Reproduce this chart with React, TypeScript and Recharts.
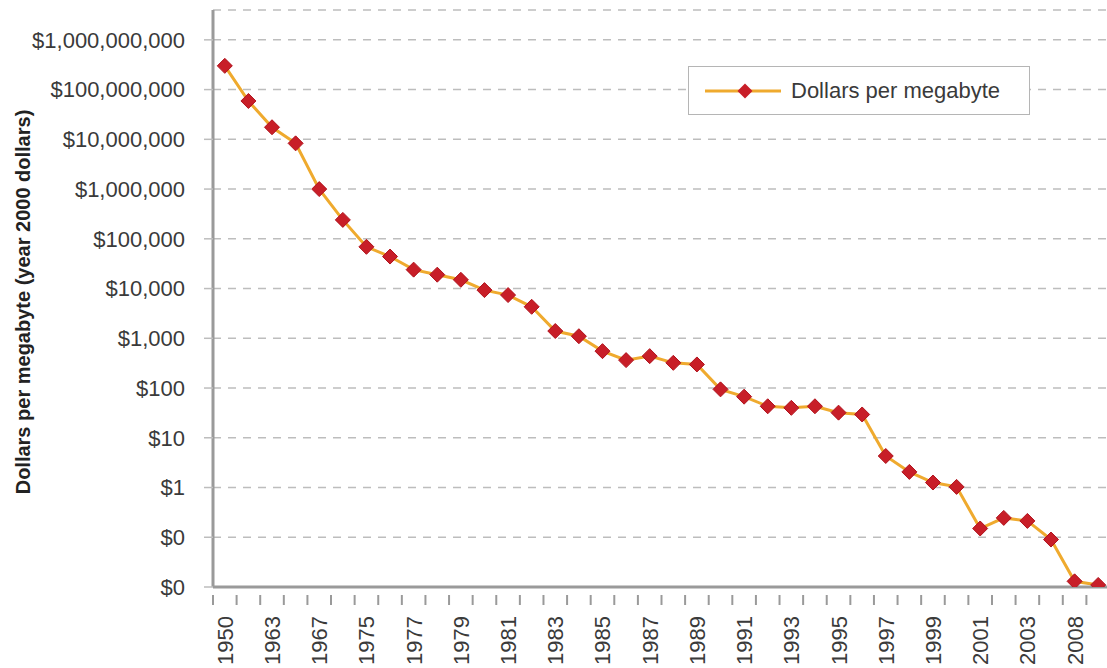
import React from 'react';
import { LineChart, Line, XAxis, YAxis, CartesianGrid } from 'recharts';

const years = [
  '1950', '1956', '1963', '1965', '1967', '1971', '1975', '1976', '1977', '1978',
  '1979', '1980', '1981', '1982', '1983', '1984', '1985', '1986', '1987', '1988',
  '1989', '1990', '1991', '1992', '1993', '1994', '1995', '1996', '1997', '1998',
  '1999', '2000', '2001', '2002', '2003', '2005', '2008', '2009',
];

const dollarsPerMB = [
  3.0e8, 5.9e7, 1.75e7, 8.3e6, 1.0e6, 2.4e5, 6.9e4, 4.4e4, 2.4e4, 1.9e4,
  1.5e4, 9.3e3, 7.4e3, 4.3e3, 1.4e3, 1.1e3, 552, 364, 438, 321,
  298, 94, 67, 43, 40, 43, 32, 29.4, 4.3, 2.06,
  1.26, 1.03, 0.15, 0.245, 0.213, 0.09, 0.013, 0.011,
];

const yTicks = [0.01, 0.1, 1, 10, 100, 1e3, 1e4, 1e5, 1e6, 1e7, 1e8, 1e9];

const data = years.map((year, i) => ({ year, value: dollarsPerMB[i] }));

const FONT = '"Liberation Sans", Arial, Helvetica, sans-serif';
const TEXT = '#3a3a3a';
const AXIS = '#9a9a9a';
const LINE = '#EFAA2E';
const MARK = '#C81E28';

const CHART_W = 1112;
const CHART_H = 668;
const Y_AXIS_W = 213;
const MARGIN_R = 2;
const BAND = (CHART_W - Y_AXIS_W - MARGIN_R) / years.length;

const fmtDollar = (v: number) =>
  v >= 1 ? '$' + Math.round(v).toLocaleString('en-US') : '$0';

function Diamond(props: any) {
  const { cx, cy } = props;
  if (cx == null || cy == null) return null;
  const r = 7.5;
  return (
    <polygon
      points={`${cx},${cy - r} ${cx + r},${cy} ${cx},${cy + r} ${cx - r},${cy}`}
      fill={MARK}
      stroke="#B0121C"
      strokeWidth={1}
    />
  );
}

function XTick(props: any) {
  const { x, y, payload, index } = props;
  const left = x - BAND / 2;
  return (
    <g>
      <line x1={left} y1={y} x2={left} y2={y + 10} stroke={AXIS} strokeWidth={2} />
      {index % 2 === 0 && (
        <text
          x={0}
          y={0}
          transform={`translate(${x + 8}, ${y + 21}) rotate(-90)`}
          textAnchor="end"
          fill={TEXT}
          fontSize={22}
          fontFamily={FONT}
        >
          {payload.value}
        </text>
      )}
    </g>
  );
}

function LegendBox() {
  return (
    <div
      style={{
        position: 'absolute',
        left: 688,
        top: 66,
        width: 342,
        height: 49,
        border: '1.5px solid #b5b5b5',
        background: '#fff',
        display: 'flex',
        alignItems: 'center',
        boxSizing: 'border-box',
        fontFamily: FONT,
      }}
    >
      <svg width={100} height={20} style={{ marginLeft: 14 }}>
        <line x1={2} y1={10} x2={78} y2={10} stroke={LINE} strokeWidth={3} />
        <polygon points="42,2.5 49.5,10 42,17.5 34.5,10" fill={MARK} />
      </svg>
      <span style={{ fontSize: 22, color: TEXT, marginLeft: -12 }}>Dollars per megabyte</span>
    </div>
  );
}

export default function App() {
  return (
    <div
      style={{
        position: 'fixed',
        left: 0,
        top: 0,
        width: 1107,
        height: 668,
        overflow: 'hidden',
        background: '#fff',
      }}
    >
      <LineChart
        width={CHART_W}
        height={CHART_H}
        data={data}
        margin={{ top: 10, right: MARGIN_R, bottom: 0, left: 0 }}
      >
        <CartesianGrid
          vertical={false}
          stroke="#bdbdbd"
          strokeWidth={1.5}
          strokeDasharray="8 7"
        />
        <XAxis
          dataKey="year"
          scale="band"
          interval={0}
          height={81}
          tick={<XTick />}
          tickLine={false}
          axisLine={{ stroke: AXIS, strokeWidth: 3 }}
        />
        <YAxis
          scale="log"
          domain={[0.01, Math.pow(10, 9.6)]}
          ticks={yTicks}
          allowDataOverflow
          width={Y_AXIS_W}
          tickFormatter={fmtDollar}
          tickSize={9}
          tickMargin={19}
          tick={{ fontSize: 22, fill: TEXT, fontFamily: FONT }}
          tickLine={{ stroke: '#bdbdbd', strokeWidth: 1.5 }}
          axisLine={{ stroke: AXIS, strokeWidth: 3 }}
          label={{
            content: () => (
              <text
                x={23}
                y={302}
                transform="rotate(-90 23 302)"
                textAnchor="middle"
                dominantBaseline="central"
                fontSize={20}
                fontWeight="bold"
                fontFamily={FONT}
                fill="#222"
              >
                Dollars per megabyte (year 2000 dollars)
              </text>
            ),
          }}
        />
        <Line
          type="linear"
          dataKey="value"
          name="Dollars per megabyte"
          stroke={LINE}
          strokeWidth={3}
          dot={<Diamond />}
          activeDot={false}
          isAnimationActive={false}
        />
      </LineChart>
      <LegendBox />
    </div>
  );
}
